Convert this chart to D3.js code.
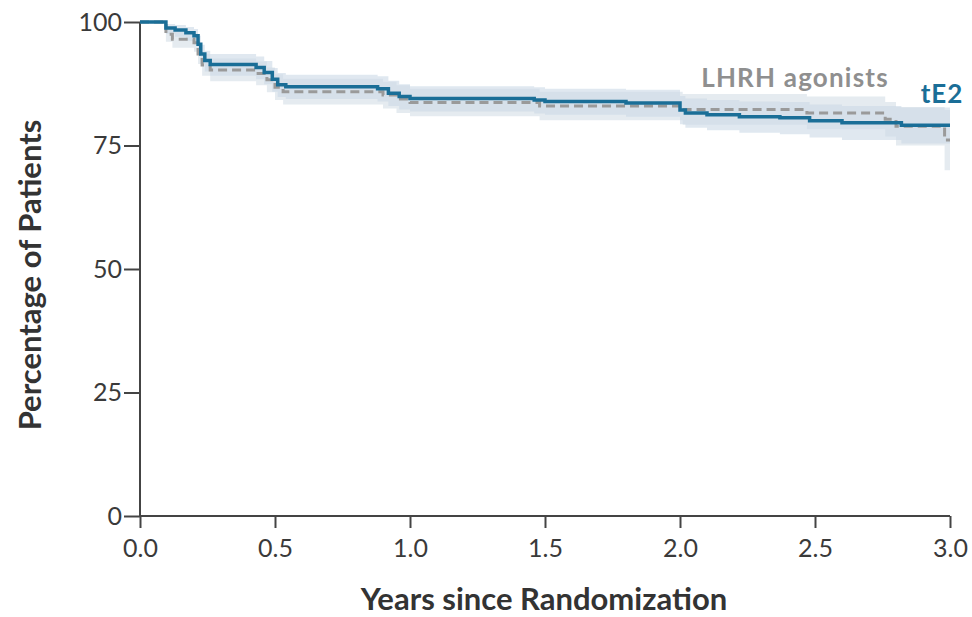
<!DOCTYPE html>
<html>
<head>
<meta charset="utf-8">
<script src="https://cdn.jsdelivr.net/npm/d3@7"></script>
<style>
  body { margin: 0; background: #fff; }
  svg text { font-family: Lato, "Open Sans", sans-serif; }
</style>
</head>
<body>
<div class="viz"></div>
<script>
const w = 972;
const h = 617;

// Kaplan-Meier steps
const tE2Times = [0, 0.096, 0.13, 0.17, 0.2, 0.215, 0.225, 0.24, 0.26, 0.43, 0.46, 0.49, 0.51, 0.54, 0.88, 0.92, 0.96, 1.0, 1.46, 1.5, 1.8, 2.0, 2.02, 2.1, 2.22, 2.37, 2.48, 2.6, 2.82, 3.0];
const tE2Surv  = [100, 98.8, 98.4, 97.8, 97.2, 95.5, 93.5, 92.2, 91.4, 90.8, 89.8, 88.4, 87.3, 86.9, 86.5, 85.6, 84.9, 84.5, 84.2, 83.9, 83.6, 82.2, 81.6, 81.2, 80.8, 80.6, 80.0, 79.6, 79.1, 79.1];
const tE2Lower = [100, 97.6, 97.0, 96.2, 95.4, 93.6, 91.5, 90.0, 89.1, 88.4, 87.4, 85.9, 84.8, 84.4, 83.9, 83.0, 82.3, 81.9, 81.5, 81.2, 80.8, 79.3, 78.6, 78.1, 77.6, 77.3, 76.6, 76.1, 75.4, 75.2];
const tE2Upper = [100, 99.6, 99.4, 99.0, 98.6, 97.2, 95.4, 94.2, 93.5, 93.0, 92.1, 90.7, 89.7, 89.3, 89.0, 88.1, 87.4, 87.0, 86.8, 86.5, 86.3, 85.0, 84.5, 84.2, 83.9, 83.8, 83.3, 83.0, 82.7, 82.8];

const lhrhTimes = [0, 0.096, 0.12, 0.2, 0.215, 0.23, 0.26, 0.43, 0.47, 0.5, 0.53, 0.9, 0.95, 1.0, 1.48, 2.01, 2.47, 2.76, 2.8, 2.98, 3.0];
const lhrhSurv  = [100, 97.5, 96.5, 95.8, 93.5, 91.3, 90.3, 89.6, 88.3, 86.8, 85.9, 85.2, 84.4, 83.7, 83.0, 82.3, 81.6, 80.3, 78.9, 76.1, 76.1];
const lhrhLower = [100, 96.0, 94.8, 94.0, 91.5, 89.1, 88.0, 87.2, 85.8, 84.2, 83.3, 82.5, 81.6, 80.9, 80.1, 79.2, 78.3, 76.8, 75.0, 70.0, 69.6];
const lhrhUpper = [100, 99.0, 98.2, 97.6, 95.5, 93.5, 92.6, 92.0, 90.8, 89.4, 88.5, 87.9, 87.2, 86.5, 85.9, 85.4, 84.9, 83.8, 82.8, 82.2, 82.2];

const xTicks = [0, 0.5, 1, 1.5, 2, 2.5, 3];
const yTicks = [0, 25, 50, 75, 100];

const margin = {top: 22, right: 22, bottom: 101, left: 140};

const svg = d3.select(".viz")
    .append("svg")
    .attr("width", w)
    .attr("height", h);

const x = d3.scaleLinear().domain([0, 3]).range([margin.left, w - margin.right]);
const y = d3.scaleLinear().domain([0, 100]).range([h - margin.bottom, margin.top]);

const toRows = (t, s, lo, hi) => t.map((d, i) => ({t: d, s: s[i], lo: lo[i], hi: hi[i]}));
const tE2 = toRows(tE2Times, tE2Surv, tE2Lower, tE2Upper);
const lhrh = toRows(lhrhTimes, lhrhSurv, lhrhLower, lhrhUpper);

const band = d3.area()
    .curve(d3.curveStepAfter)
    .x(d => x(d.t))
    .y0(d => y(d.lo))
    .y1(d => y(d.hi));

const line = d3.line()
    .curve(d3.curveStepAfter)
    .x(d => x(d.t))
    .y(d => y(d.s));

// confidence bands
svg.append("path").attr("d", band(lhrh))
    .style("fill", "#d3dde6").style("opacity", 0.6);
svg.append("path").attr("d", band(tE2))
    .style("fill", "#cbd9e6").style("opacity", 0.6);

// axes
const xAxis = svg.append("g")
    .attr("transform", `translate(0,${y(0)})`)
    .call(d3.axisBottom(x).tickValues(xTicks).tickFormat(d3.format(".1f")).tickSize(12).tickPadding(11));
const yAxis = svg.append("g")
    .attr("transform", `translate(${x(0)},0)`)
    .call(d3.axisLeft(y).tickValues(yTicks).tickSize(16).tickPadding(2));

[xAxis, yAxis].forEach(g => {
    g.select(".domain").style("stroke", "#444").style("stroke-width", 2);
    g.selectAll(".tick line").style("stroke", "#444").style("stroke-width", 2);
    g.selectAll(".tick text")
        .style("font-size", "25px")
        .style("font-weight", 400)
        .style("fill", "#3a3a3a")
        .style("font-family", "Lato, sans-serif");
});
xAxis.select(".domain").attr("d", `M${x(0)},0H${x(3)}`);
yAxis.select(".domain").attr("d", `M0,${y(0)}V${y(100)}`);

// curves
svg.append("path").attr("d", line(lhrh))
    .style("fill", "none")
    .style("stroke", "#9a9a9a")
    .style("stroke-width", 3)
    .style("stroke-dasharray", "9,5");
svg.append("path").attr("d", line(tE2))
    .style("fill", "none")
    .style("stroke", "#1a6e97")
    .style("stroke-width", 3.5);

// labels
svg.append("text")
    .attr("x", 795).attr("y", 87)
    .attr("text-anchor", "middle")
    .style("font-size", "26px").style("font-weight", 700)
    .style("letter-spacing", "1.2px")
    .style("fill", "#8f8f8f")
    .text("LHRH agonists");
svg.append("text")
    .attr("x", 942).attr("y", 103)
    .attr("text-anchor", "middle")
    .style("font-size", "26px").style("font-weight", 700)
    .style("letter-spacing", "1px")
    .style("fill", "#1a6e97")
    .text("tE2");

svg.append("text")
    .attr("x", 544).attr("y", 610)
    .attr("text-anchor", "middle")
    .style("font-size", "31px").style("font-weight", 700)
    .style("fill", "#333")
    .text("Years since Randomization");
svg.append("text")
    .attr("transform", "translate(41,275) rotate(-90)")
    .attr("text-anchor", "middle")
    .style("font-size", "31px").style("font-weight", 700)
    .style("fill", "#333")
    .text("Percentage of Patients");
</script>
</body>
</html>
